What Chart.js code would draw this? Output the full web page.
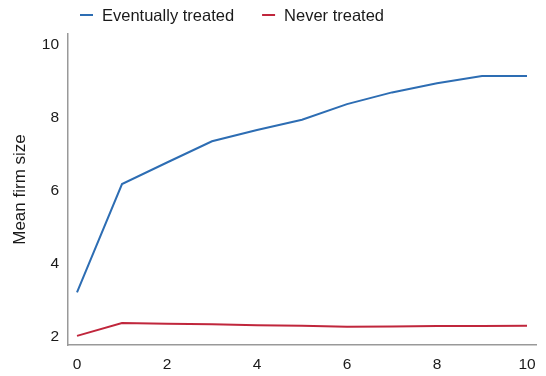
<!DOCTYPE html>
<html>
<head>
<meta charset="utf-8">
<script src="https://cdn.jsdelivr.net/npm/chart.js@4"></script>
<style>
  html, body { margin: 0; padding: 0; background: #fff; }
  #wrap { width: 546px; height: 376px; }
</style>
</head>
<body>
<div id="wrap"><canvas id="chart" width="546" height="376"></canvas></div>
<script>
const years = [0, 1, 2, 3, 4, 5, 6, 7, 8, 9, 10];
const eventuallyTreated = [3.22, 6.19, 6.78, 7.36, 7.67, 7.95, 8.38, 8.70, 8.95, 9.15, 9.15];
const neverTreated = [2.03, 2.38, 2.36, 2.35, 2.32, 2.31, 2.28, 2.29, 2.30, 2.30, 2.31];
const xTicks = [0, 2, 4, 6, 8, 10];
const yTicks = [2, 4, 6, 8, 10];

const BLUE = "#2d6db3";
const RED = "#c0263c";
const TEXT = "#1a1a1a";
const FONT = "'Liberation Sans', Arial, sans-serif";

const toPoints = (ys) => years.map((x, i) => ({ x, y: ys[i] }));

// small line-style legend above the plot, left aligned with the data
const lineLegend = {
	id: "lineLegend",
	afterDraw(chart) {
		const { ctx } = chart;
		let x = 80;
		const y = 15;
		ctx.save();
		ctx.font = `16.5px ${FONT}`;
		ctx.textBaseline = "middle";
		ctx.textAlign = "left";
		chart.data.datasets.forEach((ds) => {
			ctx.strokeStyle = ds.borderColor;
			ctx.lineWidth = 2;
			ctx.beginPath();
			ctx.moveTo(x, y);
			ctx.lineTo(x + 13, y);
			ctx.stroke();
			ctx.fillStyle = TEXT;
			ctx.fillText(ds.label, x + 22, y + 1);
			x += 22 + ctx.measureText(ds.label).width + 28;
		});
		ctx.restore();
	},
};

new Chart(document.getElementById("chart").getContext("2d"), {
	type: "line",
	data: {
		datasets: [
			{
				label: "Eventually treated",
				data: toPoints(eventuallyTreated),
				borderColor: BLUE,
				backgroundColor: BLUE,
				borderWidth: 2,
				pointRadius: 0,
				tension: 0,
			},
			{
				label: "Never treated",
				data: toPoints(neverTreated),
				borderColor: RED,
				backgroundColor: RED,
				borderWidth: 2,
				pointRadius: 0,
				tension: 0,
			},
		],
	},
	plugins: [lineLegend],
	options: {
		responsive: false,
		animation: false,
		layout: { padding: { left: 10, right: 10, top: 34, bottom: 0 } },
		plugins: {
			tooltip: { enabled: false },
			legend: { display: false },
		},
		scales: {
			x: {
				type: "linear",
				min: -0.2,
				max: 10.2,
				grid: { display: false, drawTicks: false },
				border: { display: true, color: "#999", width: 1.5 },
				afterBuildTicks: (s) => { s.ticks = xTicks.map((v) => ({ value: v })); },
				afterFit: (s) => { s.height = 31; },
				ticks: { color: TEXT, padding: 10, maxRotation: 0, font: { family: FONT, size: 15.5 } },
			},
			y: {
				min: 1.78,
				max: 10.3,
				grid: { display: false, drawTicks: false },
				border: { display: true, color: "#999", width: 1.5 },
				afterBuildTicks: (s) => { s.ticks = yTicks.map((v) => ({ value: v })); },
				afterFit: (s) => { s.width = 58; },
				ticks: { color: TEXT, padding: 9, font: { family: FONT, size: 15.5 } },
				title: {
					display: true,
					text: "Mean firm size",
					color: TEXT,
					padding: 0,
					font: { family: FONT, size: 17 },
				},
			},
		},
	},
});
</script>
</body>
</html>
